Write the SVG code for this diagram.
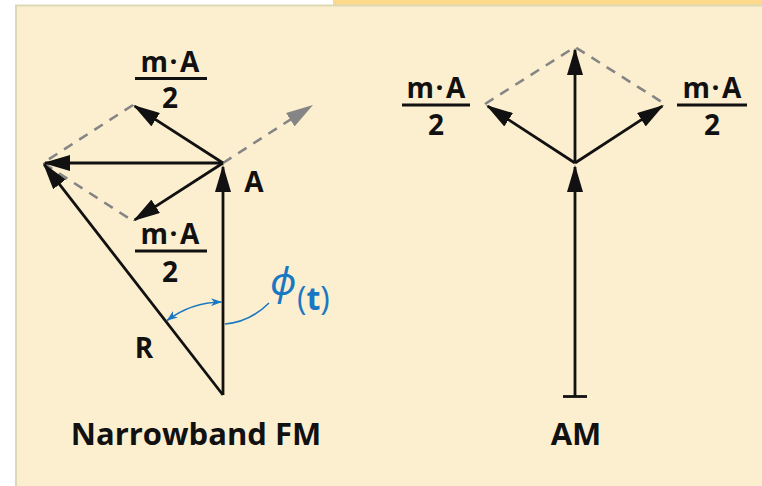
<svg xmlns="http://www.w3.org/2000/svg" width="762" height="486" viewBox="0 0 762 486">
<defs>
<style>
.lbl{font-family:"Open Sans","Noto Sans","Liberation Sans",sans-serif;font-weight:700;font-size:28px;fill:#111;text-anchor:middle}
.cap{font-family:"Open Sans","Noto Sans","Liberation Sans",sans-serif;font-weight:700;font-size:31px;fill:#111;text-anchor:middle}
.vec{stroke:#111;stroke-width:2.8;fill:none;marker-end:url(#ah)}
.ln{stroke:#111;stroke-width:2.8;fill:none}
.bar{stroke:#111;stroke-width:3;fill:none}
.dash{stroke:#858585;stroke-width:2.6;fill:none;stroke-dasharray:10 8}
.blue{stroke:#1a78c2;stroke-width:1.6;fill:none}
</style>
<marker id="ah" viewBox="0 0 27 16" markerWidth="27" markerHeight="16" refX="25" refY="8" orient="auto" markerUnits="userSpaceOnUse"><path d="M0,0 L27,8 L0,16 z" fill="#111"/></marker>
<marker id="ahg" viewBox="0 0 27 16" markerWidth="27" markerHeight="16" refX="25" refY="8" orient="auto" markerUnits="userSpaceOnUse"><path d="M0,0 L27,8 L0,16 z" fill="#858585"/></marker>
<marker id="ahb" viewBox="0 0 11 8" markerWidth="11" markerHeight="8" refX="10.5" refY="4" orient="auto-start-reverse" markerUnits="userSpaceOnUse"><path d="M0,0 L11,4 L0,8 L3,4 z" fill="#1a78c2"/></marker>
</defs>
<g id="background">
<rect x="0" y="0" width="762" height="486" fill="#ffffff"/>
<rect x="333" y="0" width="429" height="6" fill="#FDD98C"/>
<rect x="16" y="5.5" width="760" height="490" fill="#FCEFD0" stroke="#DCD9B4" stroke-width="2"/>
</g>
<g id="connectors">
<!-- Narrowband FM -->
<path class="dash" d="M133,105 L43,163 L133,221"/>
<path class="dash" d="M223,163 L311.3,106.1" style="marker-end:url(#ahg)"/>
<path class="vec" d="M223,395 L223,167"/>
<path class="vec" d="M223,163 L134.7,106.1"/>
<path class="vec" d="M223,163 L134.7,219.9"/>
<path class="vec" d="M223,163 L45,163"/>
<path class="vec" d="M223,395 L44.2,164.6"/>
<path class="blue" d="M221.5,302 A93,93 0 0 0 167,320.5" style="marker-start:url(#ahb);marker-end:url(#ahb)"/>
<path class="blue" d="M225,324 Q250,322 269,303"/>
<!-- AM -->
<path class="dash" d="M485,104 L575,47 L665,104"/>
<path class="vec" d="M575,163 L575,50"/>
<path class="vec" d="M575,163 L487.7,106.1"/>
<path class="vec" d="M575,163 L662.3,106.1"/>
<path class="vec" d="M575,396.5 L575,167"/>
<path class="ln" d="M563,396.5 L587,396.5"/>
</g>
<g id="label-fm-upper">
<text class="lbl" x="170" y="72">m<tspan dx="1.5">·</tspan><tspan dx="2.5">A</tspan></text>
<line class="bar" x1="135" y1="78.5" x2="207" y2="78.5"/>
<text class="lbl" x="170" y="108">2</text>
</g>
<g id="label-fm-lower">
<text class="lbl" x="170" y="244">m<tspan dx="1.5">·</tspan><tspan dx="2.5">A</tspan></text>
<line class="bar" x1="135" y1="251" x2="207" y2="251"/>
<text class="lbl" x="170" y="282">2</text>
</g>
<g id="label-A">
<text class="lbl" x="254" y="192">A</text>
</g>
<g id="label-R">
<text class="lbl" x="144" y="358">R</text>
</g>
<g id="label-phi">
<text x="270" y="295" font-family="'Noto Sans','Open Sans','DejaVu Sans',sans-serif" fill="#1a78c2"><tspan font-style="italic" font-size="39">ϕ</tspan><tspan x="297" y="310" font-family="'Open Sans','Noto Sans',sans-serif" font-size="32">(<tspan font-weight="700">t</tspan>)</tspan></text>
</g>
<g id="label-am-left">
<text class="lbl" x="436" y="98">m<tspan dx="1.5">·</tspan><tspan dx="2.5">A</tspan></text>
<line class="bar" x1="402" y1="105" x2="470" y2="105"/>
<text class="lbl" x="436" y="135">2</text>
</g>
<g id="label-am-right">
<text class="lbl" x="712" y="98">m<tspan dx="1.5">·</tspan><tspan dx="2.5">A</tspan></text>
<line class="bar" x1="677" y1="105" x2="747" y2="105"/>
<text class="lbl" x="712" y="135">2</text>
</g>
<g id="caption-fm">
<text class="cap" x="196" y="445">Narrowband FM</text>
</g>
<g id="caption-am">
<text class="cap" x="576" y="445">AM</text>
</g>
</svg>
